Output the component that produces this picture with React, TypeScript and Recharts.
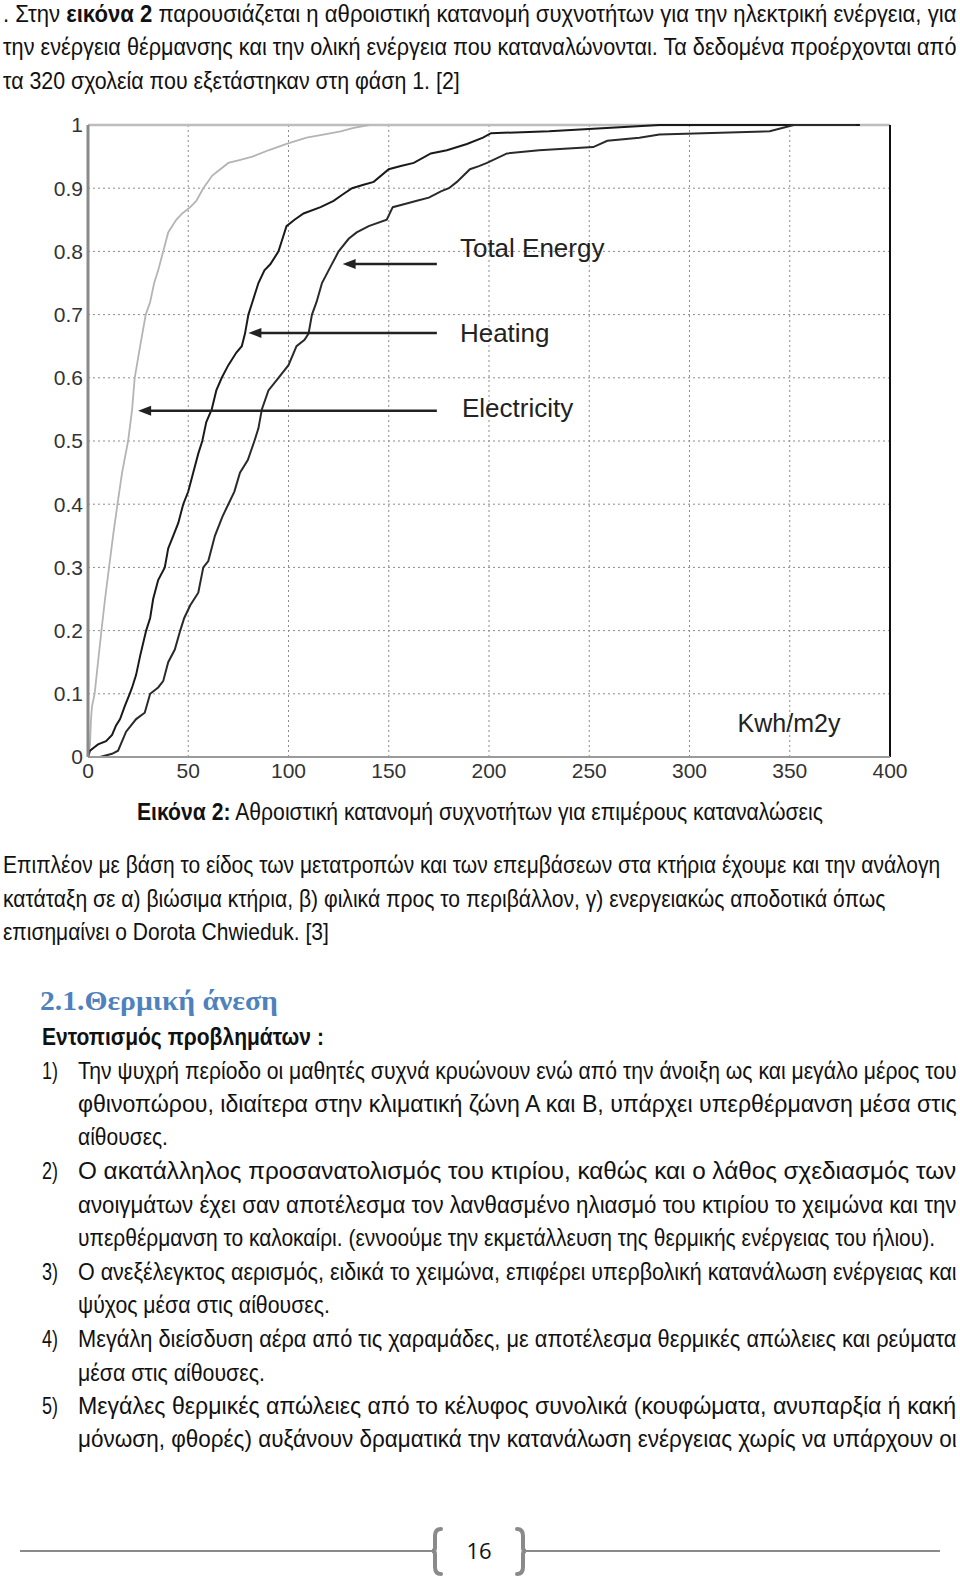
import React, { useLayoutEffect, useRef, useState } from 'react';
import { LineChart, Line, XAxis, YAxis, CartesianGrid, ReferenceLine, ReferenceDot } from 'recharts';

// ---- chart data (kWh/m2y vs cumulative frequency) ----
const elecX = [0, 1, 1.5, 2, 3.3, 5, 6.7, 8.5, 10.5, 12.5, 14.7, 17, 20, 22, 23.3, 26, 28.8, 31, 33, 35, 37.5, 40, 44, 47, 51, 54, 57.5, 62, 66, 70, 76, 82, 90, 99, 109, 118, 126, 132, 140];
const elecY = [0, 0.02, 0.06, 0.08, 0.1, 0.15, 0.2, 0.25, 0.3, 0.35, 0.4, 0.45, 0.5, 0.55, 0.6, 0.65, 0.7, 0.72, 0.75, 0.77, 0.8, 0.83, 0.85, 0.86, 0.87, 0.88, 0.9, 0.92, 0.93, 0.94, 0.945, 0.95, 0.96, 0.97, 0.98, 0.985, 0.99, 0.995, 1.0];

const heatX = [0, 1, 3, 5, 9, 12, 14, 16, 18.3, 20.8, 22, 24, 26, 29, 31, 32.5, 35, 38.3, 40, 42.5, 45, 47.5, 50, 52.5, 55, 57, 59, 61.7, 64, 66.7, 70, 74, 76.7, 78.3, 80, 82, 85, 88, 91, 95, 97, 99, 103, 107.5, 116, 122.5, 127, 131.7, 137, 142.5, 150, 156, 162.5, 171, 179, 189, 197, 201, 230, 285, 385];
const heatY = [0, 0.01, 0.015, 0.02, 0.025, 0.035, 0.05, 0.06, 0.08, 0.1, 0.11, 0.13, 0.16, 0.2, 0.22, 0.25, 0.28, 0.3, 0.33, 0.35, 0.37, 0.4, 0.42, 0.45, 0.48, 0.5, 0.53, 0.55, 0.58, 0.6, 0.62, 0.64, 0.65, 0.67, 0.7, 0.72, 0.75, 0.77, 0.78, 0.8, 0.82, 0.84, 0.85, 0.86, 0.87, 0.88, 0.89, 0.9, 0.905, 0.91, 0.93, 0.935, 0.94, 0.955, 0.96, 0.97, 0.98, 0.987, 0.99, 1.0, 1.0];

const totX = [0, 6, 12, 15, 19, 24, 28.3, 31, 35, 37.5, 40, 43.3, 46, 48, 51, 55, 57.5, 60, 63.3, 67, 70, 73, 75.8, 79.7, 83, 85, 86.7, 90, 95, 100, 104, 108, 110, 111.7, 114, 116.7, 120, 125, 130, 134, 140, 149, 152, 158, 164, 170, 176, 180, 184, 190.5, 195, 199, 209, 225, 252, 259, 275, 285, 340, 352, 383];
const totY = [0, 0, 0.005, 0.01, 0.04, 0.06, 0.07, 0.1, 0.11, 0.12, 0.15, 0.17, 0.2, 0.22, 0.24, 0.26, 0.3, 0.31, 0.35, 0.38, 0.4, 0.42, 0.45, 0.47, 0.5, 0.52, 0.55, 0.58, 0.6, 0.62, 0.65, 0.66, 0.67, 0.7, 0.72, 0.75, 0.77, 0.8, 0.82, 0.83, 0.84, 0.85, 0.87, 0.875, 0.88, 0.885, 0.895, 0.9, 0.91, 0.93, 0.935, 0.94, 0.955, 0.96, 0.965, 0.975, 0.98, 0.985, 0.99, 1.0, 1.0];

const xTicks = [0, 50, 100, 150, 200, 250, 300, 350, 400];
const yTicks = [0, 0.1, 0.2, 0.3, 0.4, 0.5, 0.6, 0.7, 0.8, 0.9, 1];
const yTickLabels = ['0', '0.1', '0.2', '0.3', '0.4', '0.5', '0.6', '0.7', '0.8', '0.9', '1'];

const seriesNames = ['Total Energy', 'Heating', 'Electricity'];
const arrowY = [0.78, 0.671, 0.548];
const arrowHeadX = [127, 80, 25];
const arrowTailX = 174;
const labelX = [185.5, 185.5, 186.5];
const labelY = [0.805, 0.671, 0.552];
const unitLabel = 'Kwh/m2y';
const unitX = 324;
const unitY = 0.054;

const zip = (xs: number[], ys: number[]) => xs.map((x, i) => ({ x, y: ys[i] }));
const elecData = zip(elecX, elecY);
const heatData = zip(heatX, heatY);
const totData = zip(totX, totY);

// ---- page text helpers ----
const SANS = "'Liberation Sans', Arial, sans-serif";

type SLProps = { x: number; y: number; w?: number; size?: number; children: React.ReactNode; weight?: number; fill?: string; family?: string; anchor?: 'start' | 'middle' | 'end' };
// y is the visual centre of the line; baseline is placed 8px lower.
// When w is given the line is measured and squeezed horizontally to exactly w px.
const SL = ({ x, y, w, size = 23.5, children, weight = 400, fill = '#111', family = SANS, anchor = 'start' }: SLProps) => {
  const ref = useRef<SVGTextElement>(null);
  const [sx, setSx] = useState(1);
  useLayoutEffect(() => {
    if (!w || !ref.current) return;
    const natural = ref.current.getComputedTextLength();
    if (natural > 0) setSx(w / natural);
  }, [w]);
  return (
    <g transform={`translate(${x} ${y + 8}) scale(${sx} 1)`}>
      <text ref={ref} x={0} y={0} fontSize={size} fontWeight={weight} fill={fill} fontFamily={family} textAnchor={anchor}>
        {children}
      </text>
    </g>
  );
};

const Arrow = (p: any) => {
  const { x1, y1, x2, y2 } = p;
  return (
    <g>
      <line x1={x1} y1={y1} x2={x2 + 8} y2={y2} stroke="#222" strokeWidth={2.5} />
      <polygon points={`${x2},${y2} ${x2 + 13},${y2 - 5} ${x2 + 13},${y2 + 5}`} fill="#222" />
    </g>
  );
};

const ChartLabel = (text: string, size: number) => (p: any) => (
  <text x={p.cx} y={p.cy} dy="0.35em" fontSize={size} fill="#222" fontFamily={SANS}>
    {text}
  </text>
);

const Brace = ({ x, flip }: { x: number; flip?: boolean }) => {
  const s = flip ? -1 : 1;
  const top = 1529, bot = 1574, mid = 1551;
  return (
    <path
      d={`M ${x + s * 6} ${top} Q ${x} ${top} ${x} ${top + 7} L ${x} ${mid - 3} Q ${x} ${mid} ${x - s * 3} ${mid} Q ${x} ${mid} ${x} ${mid + 3} L ${x} ${bot - 7} Q ${x} ${bot} ${x + s * 6} ${bot}`}
      fill="none" stroke="#8a8a8a" strokeWidth={4} strokeLinecap="round"
    />
  );
};

const ITEM_X = 78;
const ITEM_W = 879;

export default function App() {
  return (
    <div style={{ position: 'absolute', left: 0, top: 0, width: 960, height: 1578, background: '#fff', overflow: 'hidden' }}>
      <div style={{ position: 'absolute', left: 0, top: 100 }}>
        <LineChart width={960} height={700} margin={{ top: 25, right: 70, bottom: 13, left: 48 }}>
          <CartesianGrid stroke="#8c8c8c" strokeDasharray="2 3" strokeWidth={1} />
          <XAxis
            type="number" dataKey="x" domain={[0, 400]} ticks={xTicks} interval={0} allowDataOverflow
            height={30} tickSize={0} tickMargin={6}
            axisLine={{ stroke: '#9a9a9a', strokeWidth: 2 }}
            tick={{ fontSize: 21, fill: '#333', fontFamily: SANS }}
          />
          <YAxis
            type="number" dataKey="y" domain={[0, 1]} ticks={yTicks} interval={0}
            width={40} tickSize={0} tickMargin={5}
            axisLine={{ stroke: '#8a8a8a', strokeWidth: 3 }}
            tickFormatter={(v: number) => yTickLabels[yTicks.indexOf(v)] ?? String(v)}
            tick={{ fontSize: 21, fill: '#333', fontFamily: SANS }}
          />
          <ReferenceLine y={1} stroke="#bdbdbd" strokeWidth={2.5} />
          <ReferenceLine x={400} stroke="#111" strokeWidth={2} />
          <Line data={elecData} dataKey="y" type="linear" stroke="#b4b4b4" strokeWidth={1.8} dot={false} isAnimationActive={false} />
          <Line data={heatData} dataKey="y" type="linear" stroke="#1a1a1a" strokeWidth={2} dot={false} isAnimationActive={false} />
          <Line data={totData} dataKey="y" type="linear" stroke="#2a2a2a" strokeWidth={2} dot={false} isAnimationActive={false} />
          {arrowY.map((ay, i) => (
            <ReferenceLine key={'a' + i} segment={[{ x: arrowTailX, y: ay }, { x: arrowHeadX[i], y: ay }]} shape={Arrow} />
          ))}
          {seriesNames.map((n, i) => (
            <ReferenceDot key={'l' + i} x={labelX[i]} y={labelY[i]} r={0} shape={ChartLabel(n, 26)} />
          ))}
          <ReferenceDot x={unitX} y={unitY} r={0} shape={ChartLabel(unitLabel, 25)} />
        </LineChart>
      </div>

      <svg style={{ position: 'absolute', left: 0, top: 0 }} width={960} height={1578} pointerEvents="none">
        <SL x={3} y={14} w={954}>. Στην <tspan fontWeight={700}>εικόνα 2</tspan> παρουσιάζεται η αθροιστική κατανομή συχνοτήτων  για την ηλεκτρική ενέργεια, για</SL>
        <SL x={3} y={47.3} w={954}>την ενέργεια θέρμανσης και την ολική ενέργεια που καταναλώνονται. Τα δεδομένα προέρχονται από</SL>
        <SL x={3} y={80.5} w={457}>τα 320 σχολεία που εξετάστηκαν στη φάση 1.  [2]</SL>

        <SL x={137} y={812} w={686}><tspan fontWeight={700}>Εικόνα 2:</tspan> Αθροιστική κατανομή συχνοτήτων για επιμέρους καταναλώσεις</SL>

        <SL x={3} y={865} w={938}>Επιπλέον με βάση το είδος των μετατροπών και των επεμβάσεων στα κτήρια έχουμε και την ανάλογη</SL>
        <SL x={3} y={899} w={883}>κατάταξη σε α) βιώσιμα κτήρια, β) φιλικά προς το περιβάλλον, γ) ενεργειακώς αποδοτικά όπως</SL>
        <SL x={3} y={932} w={326}>επισημαίνει ο Dorota Chwieduk. [3]</SL>

        <SL x={40} y={1002} w={238} size={27} weight={700} fill="#4f81bd" family="'Liberation Serif', 'DejaVu Serif', serif">2.1.Θερμική άνεση</SL>
        <SL x={42} y={1036.5} w={282} weight={700}>Εντοπισμός προβλημάτων :</SL>

        <SL x={42} y={1070.7} w={16}>1)</SL>
        <SL x={ITEM_X} y={1070.7} w={ITEM_W}>Την ψυχρή περίοδο οι μαθητές συχνά κρυώνουν ενώ από την άνοιξη ως και μεγάλο μέρος του</SL>
        <SL x={ITEM_X} y={1104} w={ITEM_W}>φθινοπώρου, ιδιαίτερα στην κλιματική ζώνη Α και Β, υπάρχει υπερθέρμανση μέσα στις</SL>
        <SL x={ITEM_X} y={1137} w={90}>αίθουσες.</SL>

        <SL x={42} y={1171} w={16}>2)</SL>
        <SL x={ITEM_X} y={1171} w={ITEM_W}>Ο ακατάλληλος προσανατολισμός του κτιρίου, καθώς και ο λάθος σχεδιασμός των</SL>
        <SL x={ITEM_X} y={1204.6} w={ITEM_W}>ανοιγμάτων έχει σαν αποτέλεσμα τον λανθασμένο ηλιασμό του κτιρίου το χειμώνα και την</SL>
        <SL x={ITEM_X} y={1237.7} w={858}>υπερθέρμανση το καλοκαίρι. (εννοούμε την εκμετάλλευση της θερμικής ενέργειας του ήλιου).</SL>

        <SL x={42} y={1272} w={16}>3)</SL>
        <SL x={ITEM_X} y={1272} w={ITEM_W}>Ο ανεξέλεγκτος αερισμός, ειδικά το χειμώνα, επιφέρει υπερβολική κατανάλωση ενέργειας και</SL>
        <SL x={ITEM_X} y={1305} w={252}>ψύχος μέσα στις αίθουσες.</SL>

        <SL x={42} y={1339} w={16}>4)</SL>
        <SL x={ITEM_X} y={1339} w={ITEM_W}>Μεγάλη διείσδυση αέρα από τις χαραμάδες, με αποτέλεσμα θερμικές απώλειες και ρεύματα</SL>
        <SL x={ITEM_X} y={1372.6} w={187}>μέσα στις αίθουσες.</SL>

        <SL x={42} y={1406} w={16}>5)</SL>
        <SL x={ITEM_X} y={1406} w={ITEM_W}>Μεγάλες θερμικές απώλειες από το κέλυφος συνολικά (κουφώματα, ανυπαρξία ή κακή</SL>
        <SL x={ITEM_X} y={1439} w={ITEM_W}>μόνωση, φθορές) αυξάνουν δραματικά την κατανάλωση ενέργειας χωρίς να υπάρχουν οι</SL>

        <line x1={20} y1={1551} x2={432} y2={1551} stroke="#8a8a8a" strokeWidth={2} />
        <line x1={526} y1={1551} x2={940} y2={1551} stroke="#8a8a8a" strokeWidth={2} />
        <Brace x={435} />
        <Brace x={523} flip />
        <SL x={479} y={1551} size={22} anchor="middle" family="'Open Sans', 'Liberation Sans', sans-serif">16</SL>
      </svg>
    </div>
  );
}
